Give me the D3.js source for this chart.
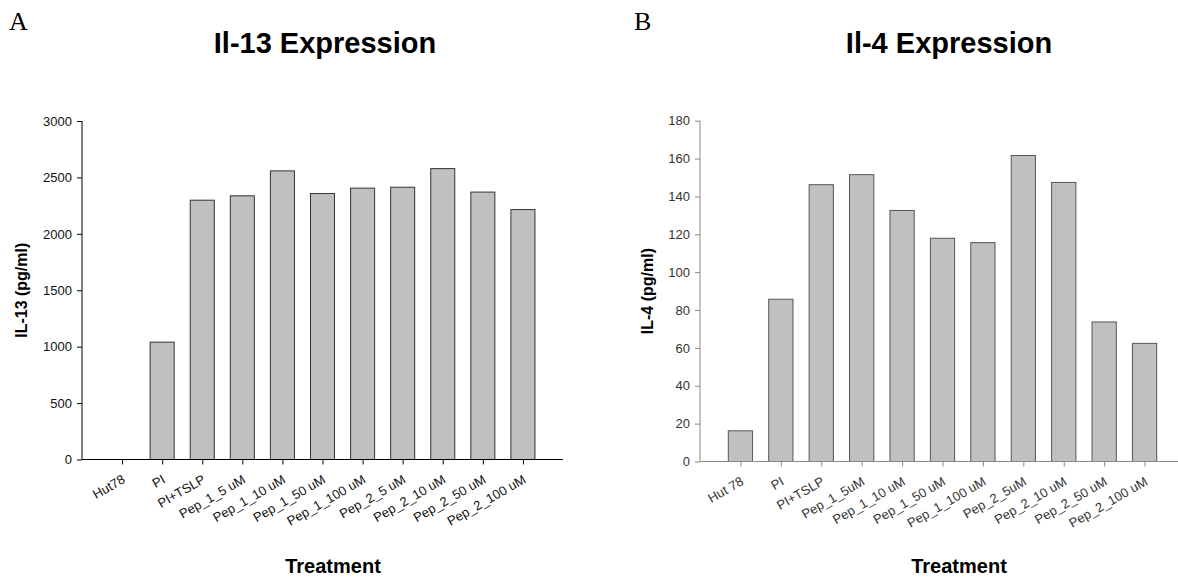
<!DOCTYPE html>
<html>
<head>
<meta charset="utf-8">
<script src="https://cdn.jsdelivr.net/npm/d3@7"></script>
<style>
  body { margin: 0; background: #fff; }
  svg text { font-family: Arial, "Liberation Sans", sans-serif; }
</style>
</head>
<body>
<svg id="chart" width="1178" height="577"></svg>
<script>
// Panel A: IL-13
var il13Categories = ["Hut78", "PI", "PI+TSLP", "Pep_1_5 uM", "Pep_1_10 uM", "Pep_1_50 uM",
                      "Pep_1_100 uM", "Pep_2_5 uM", "Pep_2_10 uM", "Pep_2_50 uM", "Pep_2_100 uM"];
var il13Values = [0, 1040, 2298, 2337, 2558, 2357, 2405, 2413, 2578, 2370, 2215];
var il13Ticks = [0, 500, 1000, 1500, 2000, 2500, 3000];

// Panel B: IL-4
var il4Categories = ["Hut 78", "PI", "PI+TSLP", "Pep_1_5uM", "Pep_1_10 uM", "Pep_1_50 uM",
                     "Pep_1_100 uM", "Pep_2_5uM", "Pep_2_10 uM", "Pep_2_50 uM", "Pep_2_100 uM"];
var il4Values = [16.2, 85.7, 146.2, 151.5, 132.6, 117.9, 115.6, 161.6, 147.4, 73.7, 62.4];
var il4Ticks = [0, 20, 40, 60, 80, 100, 120, 140, 160, 180];

var svg = d3.select("#chart");

function panel(opts) {
    var x = d3.scalePoint()
        .domain(opts.categories)
        .range([opts.left, opts.right])
        .padding(1)
      , y = d3.scaleLinear()
        .domain([0, opts.max])
        .range([opts.bottom, opts.top])
      , barW = x.step() * 0.6
      , g = svg.append("g")
    ;

    // panel letter + title
    g.append("text")
        .attr("x", opts.letterX).attr("y", 30)
        .style("font-family", "'Liberation Serif', 'Times New Roman', serif")
        .style("font-size", "26px")
        .text(opts.letter);
    g.append("text")
        .attr("x", opts.titleX).attr("y", 53)
        .attr("text-anchor", "middle")
        .style("font-size", "29px").style("font-weight", "bold")
        .text(opts.title);

    // bars
    g.selectAll("rect.bar")
        .data(opts.values)
      .enter().append("rect")
        .attr("class", "bar")
        .attr("x", function(d, i) { return x(opts.categories[i]) - barW / 2; })
        .attr("y", function(d) { return y(d); })
        .attr("width", barW)
        .attr("height", function(d) { return y(0) - y(d); })
        .attr("fill", "#c0c0c0")
        .attr("stroke", opts.barStroke)
        .attr("stroke-width", 1);

    // y axis
    var yAxis = g.append("g")
        .attr("transform", "translate(" + opts.left + ",0)")
        .call(d3.axisLeft(y).tickValues(opts.ticks).tickSize(5).tickPadding(5).tickFormat(d3.format("d")));
    yAxis.select(".domain").attr("stroke", opts.axisColor).attr("d", "M0," + opts.top + "V" + opts.bottom);
    yAxis.selectAll(".tick line").attr("stroke", opts.axisColor);
    yAxis.selectAll(".tick text")
        .style("font-size", "13px").attr("fill", opts.textColor);

    // x axis, labels slanted 30 degrees
    var xAxis = g.append("g")
        .attr("transform", "translate(0," + opts.bottom + ")")
        .call(d3.axisBottom(x).tickSize(5));
    xAxis.select(".domain").attr("stroke", opts.axisColor)
        .attr("d", "M" + opts.left + ",0H" + opts.right);
    xAxis.selectAll(".tick line").attr("stroke", opts.axisColor);
    xAxis.selectAll(".tick text")
        .attr("y", 0).attr("dy", 0)
        .attr("text-anchor", "end")
        .attr("transform", "translate(3.5,22.5) rotate(-30)")
        .style("font-size", "13px").attr("fill", opts.textColor);

    // axis titles
    g.append("text")
        .attr("transform", "translate(" + opts.ylabelX + "," + ((opts.top + opts.bottom) / 2) + ") rotate(-90)")
        .attr("text-anchor", "middle")
        .style("font-size", "16px").style("font-weight", "bold")
        .text(opts.ylabel);
    g.append("text")
        .attr("x", opts.xlabelX).attr("y", 573)
        .attr("text-anchor", "middle")
        .style("font-size", "20px").style("font-weight", "bold")
        .text("Treatment");
} // panel()

panel({
    letter: "A", letterX: 9, title: "Il-13 Expression", titleX: 325,
    categories: il13Categories, values: il13Values, ticks: il13Ticks, max: 3000,
    left: 82, right: 563, top: 121, bottom: 459.5,
    ylabel: "IL-13 (pg/ml)", ylabelX: 27, xlabelX: 333,
    axisColor: "#000", barStroke: "#333", textColor: "#111"
});
panel({
    letter: "B", letterX: 634, title: "Il-4 Expression", titleX: 949,
    categories: il4Categories, values: il4Values, ticks: il4Ticks, max: 180,
    left: 700, right: 1185, top: 120.7, bottom: 461.5,
    ylabel: "IL-4 (pg/ml)", ylabelX: 653, xlabelX: 959,
    axisColor: "#888", barStroke: "#555", textColor: "#333"
});
</script>
</body>
</html>
